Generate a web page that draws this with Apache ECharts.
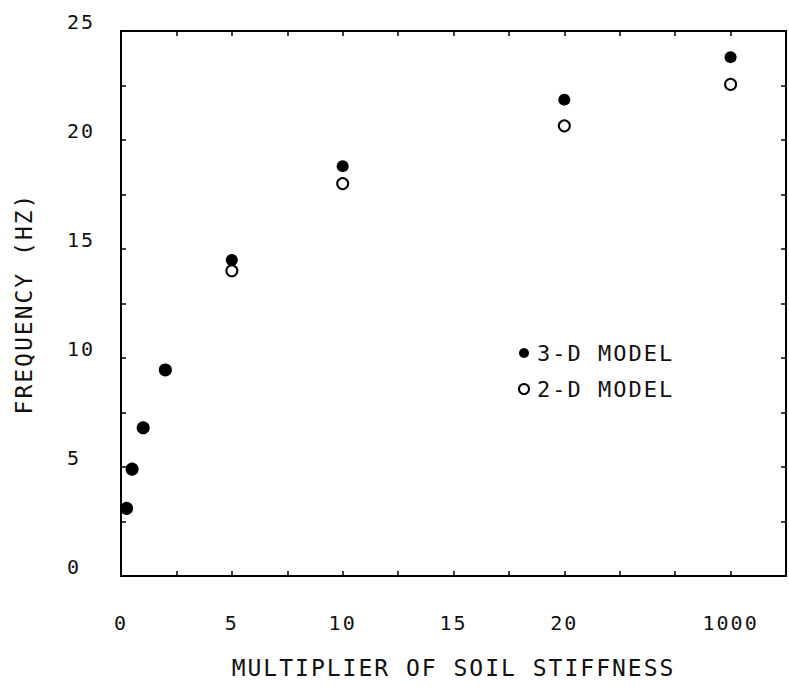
<!DOCTYPE html>
<html>
<head>
<meta charset="utf-8">
<title>Frequency vs soil stiffness</title>
<script src="https://cdn.jsdelivr.net/npm/echarts@6/dist/echarts.min.js"></script>
<style>
  html, body { margin: 0; padding: 0; background: #fff; }
  #chart { width: 789px; height: 690px; }
  /* plotter-style lettering is widely spaced */
  #chart text { letter-spacing: 2px; }
</style>
</head>
<body>
<div id="chart"></div>
<script>
// Multiplier applied to the soil stiffness; 1000 sits beyond a break in the axis
const multipliers = [0.25, 0.5, 1, 2, 5, 10, 20, 1000];
// Natural frequency (Hz) for each model
const freq3D = [3.1, 4.9, 6.8, 9.45, 14.5, 18.8, 21.85, 23.8];
const freq2D = [3.1, 4.9, 6.8, 9.45, 14.0, 18.0, 20.65, 22.55];
// Labelled ticks
const xTickValues = [0, 5, 10, 15, 20, 1000];
const xTickLabels = ['0', '5', '10', '15', '20', '1000'];
const yTickValues = [0, 5, 10, 15, 20, 25];
const yTickLabels = ['0', '5', '10', '15', '20', '25'];

// Axis break: everything above BREAK_FROM is drawn at BREAK_AT
const BREAK_FROM = 20;
const BREAK_AT = 27.5;
const toAxis = v => (v > BREAK_FROM ? BREAK_AT : v);

const FONT = 'DejaVu Sans Mono';
const INK = '#111';

function labelFor(values, labels, mapFn) {
  return function (val) {
    for (let i = 0; i < values.length; i++) {
      if (Math.abs(mapFn(values[i]) - val) < 1e-6) return labels[i];
    }
    return '';
  };
}

const frameLine = { show: true, onZero: false, lineStyle: { color: '#000', width: 2 } };
const innerTicks = { show: true, inside: true, length: 5, lineStyle: { color: '#000', width: 1.5 } };

const chart = echarts.init(document.getElementById('chart'), null, { renderer: 'svg' });

chart.setOption({
  animation: false,
  backgroundColor: '#fff',
  grid: { left: 121, right: 2, top: 31, bottom: 114, containLabel: false },
  xAxis: [
    {
      type: 'value', position: 'bottom', min: 0, max: 30, interval: 2.5,
      axisLine: frameLine, axisTick: innerTicks, splitLine: { show: false },
      axisLabel: {
        margin: 37, fontFamily: FONT, fontSize: 20, color: INK,
        formatter: labelFor(xTickValues, xTickLabels, toAxis)
      },
      name: 'MULTIPLIER OF SOIL STIFFNESS', nameLocation: 'middle', nameGap: 80,
      nameTextStyle: { fontFamily: FONT, fontSize: 23, color: INK }
    },
    {
      type: 'value', position: 'top', min: 0, max: 30, interval: 2.5,
      axisLine: frameLine, axisTick: innerTicks, splitLine: { show: false },
      axisLabel: { show: false }
    }
  ],
  yAxis: [
    {
      type: 'value', position: 'left', min: 0, max: 25, interval: 2.5,
      axisLine: frameLine, axisTick: innerTicks, splitLine: { show: false },
      axisLabel: {
        margin: 54, align: 'left', verticalAlign: 'bottom', lineHeight: 18,
        fontFamily: FONT, fontSize: 20, color: INK,
        formatter: labelFor(yTickValues, yTickLabels, v => v)
      },
      name: 'FREQUENCY (HZ)', nameLocation: 'middle', nameGap: 86,
      nameTextStyle: { fontFamily: FONT, fontSize: 23, color: INK }
    },
    {
      type: 'value', position: 'right', min: 0, max: 25, interval: 2.5,
      axisLine: frameLine, axisTick: innerTicks, splitLine: { show: false },
      axisLabel: { show: false }
    }
  ],
  legend: {
    orient: 'vertical', left: 513, top: 337,
    itemWidth: 10, itemHeight: 10, itemGap: 14,
    icon: 'circle',
    data: ['3-D MODEL', '2-D MODEL'],
    textStyle: { fontFamily: FONT, fontSize: 22, color: INK, padding: [0, 0, 0, 3] }
  },
  series: [
    {
      name: '2-D MODEL', type: 'scatter', z: 2,
      symbol: 'circle', symbolSize: 11,
      itemStyle: { color: '#fff', borderColor: '#000', borderWidth: 2, opacity: 1 },
      data: multipliers.map((m, i) => [toAxis(m), freq2D[i]])
    },
    {
      name: '3-D MODEL', type: 'scatter', z: 3,
      symbol: 'circle', symbolSize: 12,
      itemStyle: { color: '#000', opacity: 1 },
      data: multipliers.map((m, i) => [toAxis(m), freq3D[i]])
    }
  ]
});
</script>
</body>
</html>
